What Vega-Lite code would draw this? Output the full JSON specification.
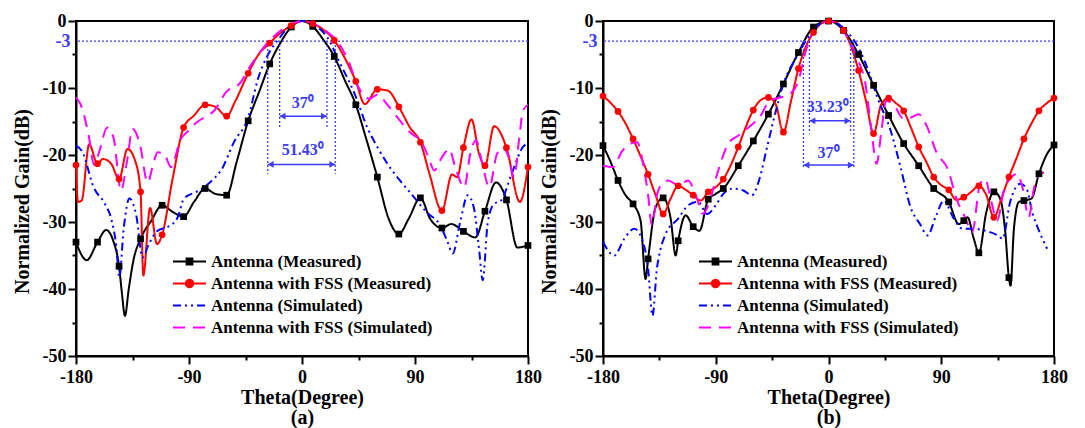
{
  "$schema": "https://vega.github.io/schema/vega-lite/v6.json",
  "padding": {"left": 11, "top": 11, "right": 0, "bottom": 0},
  "bounds": "flush",
  "spacing": 75,
  "resolve": {"scale": {"color": "independent", "strokeDash": "independent", "shape": "independent"}, "legend": {"color": "independent", "strokeDash": "independent", "shape": "independent"}},
  "config": {
    "font": "Liberation Serif",
    "view": {"stroke": "black", "strokeWidth": 2},
    "axis": {"labelFont": "Liberation Serif", "labelFontSize": 18, "labelFontWeight": "bold", "labelColor": "black", "titleFont": "Liberation Serif", "titleFontSize": 20, "titleFontWeight": "bold", "titleColor": "black", "domainColor": "black", "domainWidth": 2, "tickColor": "black", "tickWidth": 2, "grid": false, "labelFlush": false, "labelOverlap": false},
    "legend": {"orient": "none", "title": null, "padding": 0, "symbolSize": 272, "symbolStrokeWidth": 2, "rowPadding": 4, "labelOffset": 12, "labelFont": "Liberation Serif", "labelFontSize": 17, "labelFontWeight": "bold", "labelColor": "black", "labelLimit": 500}
  },
  "datasets": {
    "lineA": [
      {"series":"Antenna (Measured)","theta":-180,"gain":-33.0},{"series":"Antenna (Measured)","theta":-171.5,"gain":-35.7},{"series":"Antenna (Measured)","theta":-162.86,"gain":-33.0},{"series":"Antenna (Measured)","theta":-156,"gain":-31.2},{"series":"Antenna (Measured)","theta":-150,"gain":-33.0},{"series":"Antenna (Measured)","theta":-145.71,"gain":-36.6},{"series":"Antenna (Measured)","theta":-143.5,"gain":-40.5},{"series":"Antenna (Measured)","theta":-141,"gain":-44.0},{"series":"Antenna (Measured)","theta":-138,"gain":-40.0},{"series":"Antenna (Measured)","theta":-134,"gain":-35.5},{"series":"Antenna (Measured)","theta":-128.57,"gain":-32.5},{"series":"Antenna (Measured)","theta":-120,"gain":-29.8},{"series":"Antenna (Measured)","theta":-111.43,"gain":-27.5},{"series":"Antenna (Measured)","theta":-103,"gain":-28.5},{"series":"Antenna (Measured)","theta":-94.29,"gain":-29.2},{"series":"Antenna (Measured)","theta":-86,"gain":-27.0},{"series":"Antenna (Measured)","theta":-77.14,"gain":-25.0},{"series":"Antenna (Measured)","theta":-69,"gain":-25.8},{"series":"Antenna (Measured)","theta":-60,"gain":-26.0},{"series":"Antenna (Measured)","theta":-52,"gain":-21.0},{"series":"Antenna (Measured)","theta":-42.86,"gain":-14.9},{"series":"Antenna (Measured)","theta":-34,"gain":-10.5},{"series":"Antenna (Measured)","theta":-25.71,"gain":-6.4},{"series":"Antenna (Measured)","theta":-17,"gain":-3.2},{"series":"Antenna (Measured)","theta":-8.57,"gain":-0.9},{"series":"Antenna (Measured)","theta":0,"gain":0},{"series":"Antenna (Measured)","theta":8.57,"gain":-0.8},{"series":"Antenna (Measured)","theta":17,"gain":-2.8},{"series":"Antenna (Measured)","theta":25.71,"gain":-5.3},{"series":"Antenna (Measured)","theta":34,"gain":-8.8},{"series":"Antenna (Measured)","theta":42.86,"gain":-12.5},{"series":"Antenna (Measured)","theta":51,"gain":-17.5},{"series":"Antenna (Measured)","theta":60,"gain":-23.3},{"series":"Antenna (Measured)","theta":69,"gain":-29.5},{"series":"Antenna (Measured)","theta":77.14,"gain":-31.8},{"series":"Antenna (Measured)","theta":85,"gain":-29.5},{"series":"Antenna (Measured)","theta":94.29,"gain":-26.4},{"series":"Antenna (Measured)","theta":102,"gain":-29.5},{"series":"Antenna (Measured)","theta":111.43,"gain":-30.9},{"series":"Antenna (Measured)","theta":119,"gain":-30.3},{"series":"Antenna (Measured)","theta":128.57,"gain":-31.4},{"series":"Antenna (Measured)","theta":138,"gain":-32.3},{"series":"Antenna (Measured)","theta":145.71,"gain":-28.4},{"series":"Antenna (Measured)","theta":154.5,"gain":-24.1},{"series":"Antenna (Measured)","theta":162.86,"gain":-26.7},{"series":"Antenna (Measured)","theta":171.5,"gain":-33.8},{"series":"Antenna (Measured)","theta":180,"gain":-33.5},
      {"series":"Antenna with FSS (Measured)","theta":-180,"gain":-21.5},{"series":"Antenna with FSS (Measured)","theta":-178.5,"gain":-27.0},{"series":"Antenna with FSS (Measured)","theta":-175.5,"gain":-26.8},{"series":"Antenna with FSS (Measured)","theta":-169.5,"gain":-18.4},{"series":"Antenna with FSS (Measured)","theta":-162.86,"gain":-21.3},{"series":"Antenna with FSS (Measured)","theta":-158.5,"gain":-20.6},{"series":"Antenna with FSS (Measured)","theta":-152,"gain":-21.3},{"series":"Antenna with FSS (Measured)","theta":-145.71,"gain":-23.6},{"series":"Antenna with FSS (Measured)","theta":-139,"gain":-19.1},{"series":"Antenna with FSS (Measured)","theta":-133,"gain":-20.8},{"series":"Antenna with FSS (Measured)","theta":-128.57,"gain":-25.5},{"series":"Antenna with FSS (Measured)","theta":-126.4,"gain":-38.0},{"series":"Antenna with FSS (Measured)","theta":-121,"gain":-27.9},{"series":"Antenna with FSS (Measured)","theta":-115.5,"gain":-33.3},{"series":"Antenna with FSS (Measured)","theta":-111.43,"gain":-31.9},{"series":"Antenna with FSS (Measured)","theta":-103,"gain":-23.5},{"series":"Antenna with FSS (Measured)","theta":-94.29,"gain":-15.9},{"series":"Antenna with FSS (Measured)","theta":-86,"gain":-14.1},{"series":"Antenna with FSS (Measured)","theta":-77.14,"gain":-12.5},{"series":"Antenna with FSS (Measured)","theta":-69,"gain":-12.8},{"series":"Antenna with FSS (Measured)","theta":-60,"gain":-14.2},{"series":"Antenna with FSS (Measured)","theta":-53,"gain":-11.9},{"series":"Antenna with FSS (Measured)","theta":-42.86,"gain":-7.8},{"series":"Antenna with FSS (Measured)","theta":-35,"gain":-5.1},{"series":"Antenna with FSS (Measured)","theta":-25.71,"gain":-3.3},{"series":"Antenna with FSS (Measured)","theta":-18,"gain":-1.9},{"series":"Antenna with FSS (Measured)","theta":-8.57,"gain":-0.7},{"series":"Antenna with FSS (Measured)","theta":0,"gain":0},{"series":"Antenna with FSS (Measured)","theta":8.57,"gain":-0.4},{"series":"Antenna with FSS (Measured)","theta":17,"gain":-1.3},{"series":"Antenna with FSS (Measured)","theta":25.71,"gain":-2.9},{"series":"Antenna with FSS (Measured)","theta":34,"gain":-5.5},{"series":"Antenna with FSS (Measured)","theta":42.86,"gain":-9.0},{"series":"Antenna with FSS (Measured)","theta":50,"gain":-12.4},{"series":"Antenna with FSS (Measured)","theta":60,"gain":-10.2},{"series":"Antenna with FSS (Measured)","theta":68.5,"gain":-10.4},{"series":"Antenna with FSS (Measured)","theta":77.14,"gain":-12.8},{"series":"Antenna with FSS (Measured)","theta":86,"gain":-15.9},{"series":"Antenna with FSS (Measured)","theta":94.29,"gain":-18.1},{"series":"Antenna with FSS (Measured)","theta":101.5,"gain":-22.8},{"series":"Antenna with FSS (Measured)","theta":111.43,"gain":-28.3},{"series":"Antenna with FSS (Measured)","theta":119.5,"gain":-22.9},{"series":"Antenna with FSS (Measured)","theta":123.5,"gain":-23.3},{"series":"Antenna with FSS (Measured)","theta":128.57,"gain":-18.9},{"series":"Antenna with FSS (Measured)","theta":135,"gain":-14.7},{"series":"Antenna with FSS (Measured)","theta":141,"gain":-19.8},{"series":"Antenna with FSS (Measured)","theta":145.71,"gain":-21.6},{"series":"Antenna with FSS (Measured)","theta":153,"gain":-15.7},{"series":"Antenna with FSS (Measured)","theta":162.86,"gain":-18.9},{"series":"Antenna with FSS (Measured)","theta":173.5,"gain":-27.0},{"series":"Antenna with FSS (Measured)","theta":180,"gain":-21.8},
      {"series":"Antenna (Simulated)","theta":-180,"gain":-18.6},{"series":"Antenna (Simulated)","theta":-175,"gain":-19.5},{"series":"Antenna (Simulated)","theta":-166,"gain":-24.8},{"series":"Antenna (Simulated)","theta":-157,"gain":-27.3},{"series":"Antenna (Simulated)","theta":-152,"gain":-29.5},{"series":"Antenna (Simulated)","theta":-148,"gain":-33.5},{"series":"Antenna (Simulated)","theta":-145.5,"gain":-38.2},{"series":"Antenna (Simulated)","theta":-142,"gain":-31.0},{"series":"Antenna (Simulated)","theta":-137.5,"gain":-26.5},{"series":"Antenna (Simulated)","theta":-132,"gain":-29.0},{"series":"Antenna (Simulated)","theta":-127,"gain":-35.3},{"series":"Antenna (Simulated)","theta":-122,"gain":-33.3},{"series":"Antenna (Simulated)","theta":-115,"gain":-31.3},{"series":"Antenna (Simulated)","theta":-108,"gain":-30.8},{"series":"Antenna (Simulated)","theta":-103,"gain":-30.3},{"series":"Antenna (Simulated)","theta":-99,"gain":-29.3},{"series":"Antenna (Simulated)","theta":-94,"gain":-26.5},{"series":"Antenna (Simulated)","theta":-83,"gain":-25.4},{"series":"Antenna (Simulated)","theta":-78,"gain":-24.8},{"series":"Antenna (Simulated)","theta":-70,"gain":-23.5},{"series":"Antenna (Simulated)","theta":-64.5,"gain":-22.3},{"series":"Antenna (Simulated)","theta":-54,"gain":-18.0},{"series":"Antenna (Simulated)","theta":-43,"gain":-14.5},{"series":"Antenna (Simulated)","theta":-35,"gain":-8.6},{"series":"Antenna (Simulated)","theta":-27,"gain":-5.0},{"series":"Antenna (Simulated)","theta":-19,"gain":-2.8},{"series":"Antenna (Simulated)","theta":-10,"gain":-0.8},{"series":"Antenna (Simulated)","theta":0,"gain":0},{"series":"Antenna (Simulated)","theta":10,"gain":-0.6},{"series":"Antenna (Simulated)","theta":20,"gain":-2.4},{"series":"Antenna (Simulated)","theta":30,"gain":-6.2},{"series":"Antenna (Simulated)","theta":42,"gain":-10.9},{"series":"Antenna (Simulated)","theta":52,"gain":-15.9},{"series":"Antenna (Simulated)","theta":60,"gain":-18.8},{"series":"Antenna (Simulated)","theta":68,"gain":-21.3},{"series":"Antenna (Simulated)","theta":78,"gain":-23.8},{"series":"Antenna (Simulated)","theta":87,"gain":-25.8},{"series":"Antenna (Simulated)","theta":99,"gain":-28.5},{"series":"Antenna (Simulated)","theta":110,"gain":-30.5},{"series":"Antenna (Simulated)","theta":116,"gain":-33.0},{"series":"Antenna (Simulated)","theta":120,"gain":-34.7},{"series":"Antenna (Simulated)","theta":126,"gain":-30.0},{"series":"Antenna (Simulated)","theta":132,"gain":-26.0},{"series":"Antenna (Simulated)","theta":137,"gain":-28.0},{"series":"Antenna (Simulated)","theta":141,"gain":-34.0},{"series":"Antenna (Simulated)","theta":143.9,"gain":-38.7},{"series":"Antenna (Simulated)","theta":148,"gain":-30.0},{"series":"Antenna (Simulated)","theta":153,"gain":-27.3},{"series":"Antenna (Simulated)","theta":158.5,"gain":-26.8},{"series":"Antenna (Simulated)","theta":167,"gain":-22.8},{"series":"Antenna (Simulated)","theta":176,"gain":-18.8},{"series":"Antenna (Simulated)","theta":180,"gain":-18.2},
      {"series":"Antenna with FSS (Simulated)","theta":-180,"gain":-11.4},{"series":"Antenna with FSS (Simulated)","theta":-176,"gain":-12.6},{"series":"Antenna with FSS (Simulated)","theta":-170,"gain":-17.0},{"series":"Antenna with FSS (Simulated)","theta":-165.5,"gain":-21.5},{"series":"Antenna with FSS (Simulated)","theta":-162,"gain":-19.8},{"series":"Antenna with FSS (Simulated)","theta":-155,"gain":-15.9},{"series":"Antenna with FSS (Simulated)","theta":-150,"gain":-17.5},{"series":"Antenna with FSS (Simulated)","theta":-144.2,"gain":-25.3},{"series":"Antenna with FSS (Simulated)","theta":-139,"gain":-20.5},{"series":"Antenna with FSS (Simulated)","theta":-135,"gain":-16.1},{"series":"Antenna with FSS (Simulated)","theta":-129,"gain":-18.5},{"series":"Antenna with FSS (Simulated)","theta":-123,"gain":-24.1},{"series":"Antenna with FSS (Simulated)","theta":-118,"gain":-21.0},{"series":"Antenna with FSS (Simulated)","theta":-115,"gain":-19.6},{"series":"Antenna with FSS (Simulated)","theta":-110,"gain":-19.8},{"series":"Antenna with FSS (Simulated)","theta":-104.3,"gain":-21.8},{"series":"Antenna with FSS (Simulated)","theta":-97,"gain":-17.8},{"series":"Antenna with FSS (Simulated)","theta":-90,"gain":-16.3},{"series":"Antenna with FSS (Simulated)","theta":-85,"gain":-15.3},{"series":"Antenna with FSS (Simulated)","theta":-78,"gain":-14.4},{"series":"Antenna with FSS (Simulated)","theta":-70,"gain":-13.4},{"series":"Antenna with FSS (Simulated)","theta":-60,"gain":-10.5},{"series":"Antenna with FSS (Simulated)","theta":-50,"gain":-9.4},{"series":"Antenna with FSS (Simulated)","theta":-40,"gain":-6.4},{"series":"Antenna with FSS (Simulated)","theta":-28,"gain":-3.4},{"series":"Antenna with FSS (Simulated)","theta":-20,"gain":-1.9},{"series":"Antenna with FSS (Simulated)","theta":-10,"gain":-0.6},{"series":"Antenna with FSS (Simulated)","theta":0,"gain":0},{"series":"Antenna with FSS (Simulated)","theta":10,"gain":-0.5},{"series":"Antenna with FSS (Simulated)","theta":20,"gain":-1.6},{"series":"Antenna with FSS (Simulated)","theta":28,"gain":-3.0},{"series":"Antenna with FSS (Simulated)","theta":37,"gain":-6.0},{"series":"Antenna with FSS (Simulated)","theta":45,"gain":-9.9},{"series":"Antenna with FSS (Simulated)","theta":53.6,"gain":-11.6},{"series":"Antenna with FSS (Simulated)","theta":60,"gain":-11.0},{"series":"Antenna with FSS (Simulated)","theta":68,"gain":-12.5},{"series":"Antenna with FSS (Simulated)","theta":76,"gain":-14.4},{"series":"Antenna with FSS (Simulated)","theta":87,"gain":-16.8},{"series":"Antenna with FSS (Simulated)","theta":95,"gain":-18.0},{"series":"Antenna with FSS (Simulated)","theta":100,"gain":-20.0},{"series":"Antenna with FSS (Simulated)","theta":105.5,"gain":-22.3},{"series":"Antenna with FSS (Simulated)","theta":110,"gain":-20.8},{"series":"Antenna with FSS (Simulated)","theta":113.4,"gain":-19.8},{"series":"Antenna with FSS (Simulated)","theta":117.3,"gain":-19.1},{"series":"Antenna with FSS (Simulated)","theta":122,"gain":-21.8},{"series":"Antenna with FSS (Simulated)","theta":129.3,"gain":-24.8},{"series":"Antenna with FSS (Simulated)","theta":134,"gain":-19.8},{"series":"Antenna with FSS (Simulated)","theta":138.6,"gain":-17.8},{"series":"Antenna with FSS (Simulated)","theta":143,"gain":-20.8},{"series":"Antenna with FSS (Simulated)","theta":149.2,"gain":-24.8},{"series":"Antenna with FSS (Simulated)","theta":155,"gain":-20.0},{"series":"Antenna with FSS (Simulated)","theta":159.8,"gain":-18.8},{"series":"Antenna with FSS (Simulated)","theta":164,"gain":-20.0},{"series":"Antenna with FSS (Simulated)","theta":169,"gain":-23.3},{"series":"Antenna with FSS (Simulated)","theta":173,"gain":-17.5},{"series":"Antenna with FSS (Simulated)","theta":176,"gain":-13.4},{"series":"Antenna with FSS (Simulated)","theta":180,"gain":-12.5}
    ],
    "lineB": [
      {"series":"Antenna (Measured)","theta":-180,"gain":-18.6},{"series":"Antenna (Measured)","theta":-174,"gain":-21.0},{"series":"Antenna (Measured)","theta":-168,"gain":-23.8},{"series":"Antenna (Measured)","theta":-162,"gain":-26.0},{"series":"Antenna (Measured)","theta":-156,"gain":-27.3},{"series":"Antenna (Measured)","theta":-150,"gain":-29.8},{"series":"Antenna (Measured)","theta":-146,"gain":-38.5},{"series":"Antenna (Measured)","theta":-144,"gain":-35.5},{"series":"Antenna (Measured)","theta":-138,"gain":-27.8},{"series":"Antenna (Measured)","theta":-132,"gain":-26.4},{"series":"Antenna (Measured)","theta":-126,"gain":-29.5},{"series":"Antenna (Measured)","theta":-122,"gain":-35.0},{"series":"Antenna (Measured)","theta":-120,"gain":-32.8},{"series":"Antenna (Measured)","theta":-114,"gain":-29.0},{"series":"Antenna (Measured)","theta":-108,"gain":-30.7},{"series":"Antenna (Measured)","theta":-103,"gain":-31.3},{"series":"Antenna (Measured)","theta":-96,"gain":-26.6},{"series":"Antenna (Measured)","theta":-90,"gain":-25.8},{"series":"Antenna (Measured)","theta":-84,"gain":-25.0},{"series":"Antenna (Measured)","theta":-72,"gain":-21.6},{"series":"Antenna (Measured)","theta":-60,"gain":-17.9},{"series":"Antenna (Measured)","theta":-48,"gain":-13.9},{"series":"Antenna (Measured)","theta":-36,"gain":-9.4},{"series":"Antenna (Measured)","theta":-24,"gain":-4.7},{"series":"Antenna (Measured)","theta":-12,"gain":-0.9},{"series":"Antenna (Measured)","theta":0,"gain":0},{"series":"Antenna (Measured)","theta":12,"gain":-1.4},{"series":"Antenna (Measured)","theta":24,"gain":-5.0},{"series":"Antenna (Measured)","theta":36,"gain":-9.6},{"series":"Antenna (Measured)","theta":48,"gain":-14.1},{"series":"Antenna (Measured)","theta":60,"gain":-18.3},{"series":"Antenna (Measured)","theta":72,"gain":-21.6},{"series":"Antenna (Measured)","theta":84,"gain":-25.0},{"series":"Antenna (Measured)","theta":96,"gain":-27.0},{"series":"Antenna (Measured)","theta":104,"gain":-30.3},{"series":"Antenna (Measured)","theta":108,"gain":-29.8},{"series":"Antenna (Measured)","theta":111,"gain":-29.3},{"series":"Antenna (Measured)","theta":116,"gain":-32.5},{"series":"Antenna (Measured)","theta":120,"gain":-34.6},{"series":"Antenna (Measured)","theta":126,"gain":-28.5},{"series":"Antenna (Measured)","theta":132,"gain":-25.5},{"series":"Antenna (Measured)","theta":137,"gain":-26.5},{"series":"Antenna (Measured)","theta":141,"gain":-31.3},{"series":"Antenna (Measured)","theta":144,"gain":-38.3},{"series":"Antenna (Measured)","theta":145.3,"gain":-39.5},{"series":"Antenna (Measured)","theta":148,"gain":-31.0},{"series":"Antenna (Measured)","theta":152,"gain":-27.0},{"series":"Antenna (Measured)","theta":156,"gain":-26.8},{"series":"Antenna (Measured)","theta":162,"gain":-26.5},{"series":"Antenna (Measured)","theta":168,"gain":-22.8},{"series":"Antenna (Measured)","theta":174,"gain":-20.0},{"series":"Antenna (Measured)","theta":180,"gain":-18.5},
      {"series":"Antenna with FSS (Measured)","theta":-180,"gain":-11.2},{"series":"Antenna with FSS (Measured)","theta":-174,"gain":-12.2},{"series":"Antenna with FSS (Measured)","theta":-168,"gain":-13.5},{"series":"Antenna with FSS (Measured)","theta":-162,"gain":-15.3},{"series":"Antenna with FSS (Measured)","theta":-156,"gain":-17.6},{"series":"Antenna with FSS (Measured)","theta":-150,"gain":-20.2},{"series":"Antenna with FSS (Measured)","theta":-144,"gain":-22.9},{"series":"Antenna with FSS (Measured)","theta":-138,"gain":-26.0},{"series":"Antenna with FSS (Measured)","theta":-132,"gain":-28.8},{"series":"Antenna with FSS (Measured)","theta":-126,"gain":-26.5},{"series":"Antenna with FSS (Measured)","theta":-120,"gain":-24.6},{"series":"Antenna with FSS (Measured)","theta":-114,"gain":-25.2},{"series":"Antenna with FSS (Measured)","theta":-108,"gain":-26.0},{"series":"Antenna with FSS (Measured)","theta":-102,"gain":-26.8},{"series":"Antenna with FSS (Measured)","theta":-96,"gain":-25.5},{"series":"Antenna with FSS (Measured)","theta":-90,"gain":-24.8},{"series":"Antenna with FSS (Measured)","theta":-84,"gain":-23.6},{"series":"Antenna with FSS (Measured)","theta":-78,"gain":-21.5},{"series":"Antenna with FSS (Measured)","theta":-72,"gain":-18.8},{"series":"Antenna with FSS (Measured)","theta":-66,"gain":-15.8},{"series":"Antenna with FSS (Measured)","theta":-60,"gain":-13.3},{"series":"Antenna with FSS (Measured)","theta":-54,"gain":-11.8},{"series":"Antenna with FSS (Measured)","theta":-48,"gain":-11.4},{"series":"Antenna with FSS (Measured)","theta":-42,"gain":-12.5},{"series":"Antenna with FSS (Measured)","theta":-36,"gain":-16.6},{"series":"Antenna with FSS (Measured)","theta":-30,"gain":-12.0},{"series":"Antenna with FSS (Measured)","theta":-24,"gain":-7.1},{"series":"Antenna with FSS (Measured)","theta":-18,"gain":-3.8},{"series":"Antenna with FSS (Measured)","theta":-12,"gain":-1.7},{"series":"Antenna with FSS (Measured)","theta":-6,"gain":-0.4},{"series":"Antenna with FSS (Measured)","theta":0,"gain":0},{"series":"Antenna with FSS (Measured)","theta":6,"gain":-0.2},{"series":"Antenna with FSS (Measured)","theta":12,"gain":-1.4},{"series":"Antenna with FSS (Measured)","theta":18,"gain":-3.8},{"series":"Antenna with FSS (Measured)","theta":24,"gain":-7.4},{"series":"Antenna with FSS (Measured)","theta":30,"gain":-12.0},{"series":"Antenna with FSS (Measured)","theta":36,"gain":-16.8},{"series":"Antenna with FSS (Measured)","theta":42,"gain":-12.5},{"series":"Antenna with FSS (Measured)","theta":48,"gain":-11.5},{"series":"Antenna with FSS (Measured)","theta":54,"gain":-12.3},{"series":"Antenna with FSS (Measured)","theta":60,"gain":-13.4},{"series":"Antenna with FSS (Measured)","theta":66,"gain":-16.0},{"series":"Antenna with FSS (Measured)","theta":72,"gain":-18.8},{"series":"Antenna with FSS (Measured)","theta":78,"gain":-21.0},{"series":"Antenna with FSS (Measured)","theta":84,"gain":-23.3},{"series":"Antenna with FSS (Measured)","theta":90,"gain":-24.5},{"series":"Antenna with FSS (Measured)","theta":96,"gain":-25.2},{"series":"Antenna with FSS (Measured)","theta":102,"gain":-26.7},{"series":"Antenna with FSS (Measured)","theta":108,"gain":-26.3},{"series":"Antenna with FSS (Measured)","theta":114,"gain":-25.5},{"series":"Antenna with FSS (Measured)","theta":120,"gain":-24.6},{"series":"Antenna with FSS (Measured)","theta":126,"gain":-26.0},{"series":"Antenna with FSS (Measured)","theta":132,"gain":-29.3},{"series":"Antenna with FSS (Measured)","theta":138,"gain":-26.5},{"series":"Antenna with FSS (Measured)","theta":144,"gain":-23.3},{"series":"Antenna with FSS (Measured)","theta":150,"gain":-20.5},{"series":"Antenna with FSS (Measured)","theta":156,"gain":-17.6},{"series":"Antenna with FSS (Measured)","theta":162,"gain":-15.3},{"series":"Antenna with FSS (Measured)","theta":168,"gain":-13.4},{"series":"Antenna with FSS (Measured)","theta":174,"gain":-12.3},{"series":"Antenna with FSS (Measured)","theta":180,"gain":-11.5},
      {"series":"Antenna (Simulated)","theta":-180,"gain":-33.0},{"series":"Antenna (Simulated)","theta":-171,"gain":-35.0},{"series":"Antenna (Simulated)","theta":-163,"gain":-32.5},{"series":"Antenna (Simulated)","theta":-155,"gain":-31.0},{"series":"Antenna (Simulated)","theta":-149,"gain":-32.5},{"series":"Antenna (Simulated)","theta":-144,"gain":-37.0},{"series":"Antenna (Simulated)","theta":-140.5,"gain":-44.0},{"series":"Antenna (Simulated)","theta":-137,"gain":-37.0},{"series":"Antenna (Simulated)","theta":-134,"gain":-34.0},{"series":"Antenna (Simulated)","theta":-130,"gain":-31.8},{"series":"Antenna (Simulated)","theta":-120,"gain":-29.5},{"series":"Antenna (Simulated)","theta":-112,"gain":-27.5},{"series":"Antenna (Simulated)","theta":-104,"gain":-27.0},{"series":"Antenna (Simulated)","theta":-97,"gain":-28.8},{"series":"Antenna (Simulated)","theta":-90,"gain":-27.5},{"series":"Antenna (Simulated)","theta":-84,"gain":-25.8},{"series":"Antenna (Simulated)","theta":-76,"gain":-25.0},{"series":"Antenna (Simulated)","theta":-68,"gain":-25.3},{"series":"Antenna (Simulated)","theta":-61,"gain":-26.0},{"series":"Antenna (Simulated)","theta":-55,"gain":-23.5},{"series":"Antenna (Simulated)","theta":-49,"gain":-18.8},{"series":"Antenna (Simulated)","theta":-44,"gain":-14.9},{"series":"Antenna (Simulated)","theta":-36,"gain":-9.4},{"series":"Antenna (Simulated)","theta":-26,"gain":-5.5},{"series":"Antenna (Simulated)","theta":-14,"gain":-1.9},{"series":"Antenna (Simulated)","theta":-6,"gain":-0.3},{"series":"Antenna (Simulated)","theta":0,"gain":0},{"series":"Antenna (Simulated)","theta":8,"gain":-0.5},{"series":"Antenna (Simulated)","theta":16,"gain":-1.8},{"series":"Antenna (Simulated)","theta":25,"gain":-4.4},{"series":"Antenna (Simulated)","theta":32,"gain":-7.5},{"series":"Antenna (Simulated)","theta":39,"gain":-11.4},{"series":"Antenna (Simulated)","theta":49.5,"gain":-16.3},{"series":"Antenna (Simulated)","theta":57.5,"gain":-21.8},{"series":"Antenna (Simulated)","theta":65.5,"gain":-27.8},{"series":"Antenna (Simulated)","theta":73,"gain":-30.3},{"series":"Antenna (Simulated)","theta":79,"gain":-32.0},{"series":"Antenna (Simulated)","theta":86,"gain":-29.0},{"series":"Antenna (Simulated)","theta":92,"gain":-26.8},{"series":"Antenna (Simulated)","theta":100,"gain":-29.5},{"series":"Antenna (Simulated)","theta":107,"gain":-31.0},{"series":"Antenna (Simulated)","theta":115,"gain":-31.0},{"series":"Antenna (Simulated)","theta":125,"gain":-31.3},{"series":"Antenna (Simulated)","theta":135,"gain":-32.0},{"series":"Antenna (Simulated)","theta":139,"gain":-32.5},{"series":"Antenna (Simulated)","theta":145,"gain":-27.0},{"series":"Antenna (Simulated)","theta":153,"gain":-24.3},{"series":"Antenna (Simulated)","theta":158,"gain":-25.0},{"series":"Antenna (Simulated)","theta":163,"gain":-28.8},{"series":"Antenna (Simulated)","theta":168,"gain":-31.3},{"series":"Antenna (Simulated)","theta":174.5,"gain":-34.0},
      {"series":"Antenna with FSS (Simulated)","theta":-180,"gain":-21.6},{"series":"Antenna with FSS (Simulated)","theta":-172,"gain":-21.8},{"series":"Antenna with FSS (Simulated)","theta":-165,"gain":-19.5},{"series":"Antenna with FSS (Simulated)","theta":-158,"gain":-18.3},{"series":"Antenna with FSS (Simulated)","theta":-152.7,"gain":-18.1},{"series":"Antenna with FSS (Simulated)","theta":-148,"gain":-21.3},{"series":"Antenna with FSS (Simulated)","theta":-144,"gain":-26.0},{"series":"Antenna with FSS (Simulated)","theta":-141,"gain":-30.5},{"series":"Antenna with FSS (Simulated)","theta":-137,"gain":-26.0},{"series":"Antenna with FSS (Simulated)","theta":-133,"gain":-24.3},{"series":"Antenna with FSS (Simulated)","theta":-128,"gain":-23.8},{"series":"Antenna with FSS (Simulated)","theta":-120,"gain":-24.5},{"series":"Antenna with FSS (Simulated)","theta":-112,"gain":-23.8},{"series":"Antenna with FSS (Simulated)","theta":-106,"gain":-26.0},{"series":"Antenna with FSS (Simulated)","theta":-100,"gain":-28.8},{"series":"Antenna with FSS (Simulated)","theta":-96,"gain":-27.5},{"series":"Antenna with FSS (Simulated)","theta":-88,"gain":-22.3},{"series":"Antenna with FSS (Simulated)","theta":-80,"gain":-18.3},{"series":"Antenna with FSS (Simulated)","theta":-72,"gain":-17.1},{"series":"Antenna with FSS (Simulated)","theta":-62,"gain":-15.6},{"series":"Antenna with FSS (Simulated)","theta":-55,"gain":-14.4},{"series":"Antenna with FSS (Simulated)","theta":-47,"gain":-11.9},{"series":"Antenna with FSS (Simulated)","theta":-40,"gain":-11.5},{"series":"Antenna with FSS (Simulated)","theta":-31,"gain":-10.9},{"series":"Antenna with FSS (Simulated)","theta":-24,"gain":-8.9},{"series":"Antenna with FSS (Simulated)","theta":-18,"gain":-4.4},{"series":"Antenna with FSS (Simulated)","theta":-12,"gain":-1.4},{"series":"Antenna with FSS (Simulated)","theta":-5,"gain":-0.3},{"series":"Antenna with FSS (Simulated)","theta":0,"gain":0},{"series":"Antenna with FSS (Simulated)","theta":5,"gain":-0.2},{"series":"Antenna with FSS (Simulated)","theta":12,"gain":-1.5},{"series":"Antenna with FSS (Simulated)","theta":18,"gain":-3.5},{"series":"Antenna with FSS (Simulated)","theta":24,"gain":-6.0},{"series":"Antenna with FSS (Simulated)","theta":29.5,"gain":-9.4},{"series":"Antenna with FSS (Simulated)","theta":34,"gain":-15.9},{"series":"Antenna with FSS (Simulated)","theta":38.5,"gain":-21.3},{"series":"Antenna with FSS (Simulated)","theta":42,"gain":-16.8},{"series":"Antenna with FSS (Simulated)","theta":46,"gain":-11.9},{"series":"Antenna with FSS (Simulated)","theta":52,"gain":-12.5},{"series":"Antenna with FSS (Simulated)","theta":60,"gain":-14.6},{"series":"Antenna with FSS (Simulated)","theta":66,"gain":-14.4},{"series":"Antenna with FSS (Simulated)","theta":72,"gain":-13.9},{"series":"Antenna with FSS (Simulated)","theta":78,"gain":-15.5},{"series":"Antenna with FSS (Simulated)","theta":86.7,"gain":-19.8},{"series":"Antenna with FSS (Simulated)","theta":95,"gain":-22.0},{"series":"Antenna with FSS (Simulated)","theta":102.7,"gain":-26.8},{"series":"Antenna with FSS (Simulated)","theta":109,"gain":-29.3},{"series":"Antenna with FSS (Simulated)","theta":114.7,"gain":-31.5},{"series":"Antenna with FSS (Simulated)","theta":121,"gain":-24.3},{"series":"Antenna with FSS (Simulated)","theta":125,"gain":-23.6},{"series":"Antenna with FSS (Simulated)","theta":130,"gain":-27.0},{"series":"Antenna with FSS (Simulated)","theta":134.6,"gain":-29.8},{"series":"Antenna with FSS (Simulated)","theta":140,"gain":-25.3},{"series":"Antenna with FSS (Simulated)","theta":145,"gain":-23.5},{"series":"Antenna with FSS (Simulated)","theta":150.6,"gain":-22.8},{"series":"Antenna with FSS (Simulated)","theta":155,"gain":-25.0},{"series":"Antenna with FSS (Simulated)","theta":159.8,"gain":-29.3},{"series":"Antenna with FSS (Simulated)","theta":164,"gain":-25.0},{"series":"Antenna with FSS (Simulated)","theta":168,"gain":-23.0},{"series":"Antenna with FSS (Simulated)","theta":172,"gain":-22.6}
    ],
    "vlineA": [
      {"theta": -17.8, "gain": -3, "gain2": -16},
      {"theta": 19.9, "gain": -3, "gain2": -16},
      {"theta": -27.3, "gain": -3, "gain2": -22.8},
      {"theta": 26.5, "gain": -3, "gain2": -22.8}
    ],
    "arrowA": [
      {"theta": -17.8, "theta2": 19.9, "gain": -14.2},
      {"theta": -27.3, "theta2": 26.5, "gain": -21.4}
    ],
    "textA": [
      {"theta": 0.5, "gain": -12.3, "label": "37⁰"},
      {"theta": 0.5, "gain": -19.3, "label": "51.43⁰"}
    ],
    "vlineB": [
      {"theta": -15.2, "gain": -3, "gain2": -16.8},
      {"theta": 17.6, "gain": -3, "gain2": -16.8},
      {"theta": -20.0, "gain": -3, "gain2": -21.8},
      {"theta": 20.2, "gain": -3, "gain2": -21.8}
    ],
    "arrowB": [
      {"theta": -15.2, "theta2": 17.6, "gain": -14.9},
      {"theta": -20.0, "theta2": 20.2, "gain": -21.5}
    ],
    "textB": [
      {"theta": -0.5, "gain": -12.8, "label": "33.23⁰"},
      {"theta": 0, "gain": -19.7, "label": "37⁰"}
    ]
  },
  "hconcat": [
    {
      "width": 452, "height": 335,
      "layer": [
        {"data": {"name": "lineA"}, "mark": {"type": "line", "interpolate": "monotone", "strokeWidth": 2},
         "encoding": {
           "x": {"field": "theta", "type": "quantitative", "scale": {"domain": [-180, 180], "nice": false, "zero": false},
                 "axis": {"title": ["Theta(Degree)", "(a)"], "values": [-180, -135, -90, -45, 0, 45, 90, 135, 180], "tickCount": 30, "labelExpr": "datum.value % 90 == 0 ? '' + datum.value : ''", "tickSize": {"condition": {"test": "datum.value % 90 != 0", "value": 4}, "value": 8}, "labelPadding": 4, "titlePadding": 1, "titleLineHeight": 20}},
           "y": {"field": "gain", "type": "quantitative", "scale": {"domain": [-50, 0], "nice": false},
                 "axis": {"title": "Normalized Gain(dB)", "titleY": 180, "values": [0, -3, -5, -10, -15, -20, -25, -30, -35, -40, -45, -50], "tickCount": 30, "labelExpr": "datum.value % 10 == 0 || datum.value == -3 ? '' + datum.value : ''", "labelColor": {"condition": {"test": "datum.value == -3", "value": "#3c3cff"}, "value": "black"}, "tickOpacity": {"condition": {"test": "datum.value == -3", "value": 0}, "value": 1}, "tickSize": {"condition": {"test": "datum.value % 10 != 0", "value": 4}, "value": 8}, "labelPadding": 2, "titlePadding": 10}},
           "color": {"field": "series", "type": "nominal", "scale": {"domain": ["Antenna (Measured)", "Antenna with FSS (Measured)", "Antenna (Simulated)", "Antenna with FSS (Simulated)"], "range": ["#000000", "#ff0000", "#0000ff", "#ff00ff"]},
                     "legend": {"legendX": 104, "legendY": 231, "encode": {"symbols": {"update": {"shape": {"signal": "datum.value == 'Antenna (Measured)' ? 'M-2,0H2M-0.35,-0.35H0.35V0.35H-0.35Z' : datum.value == 'Antenna with FSS (Measured)' ? 'M-2,0H2M0.45,0A0.45,0.45,0,1,1,-0.45,0A0.45,0.45,0,1,1,0.45,0Z' : 'M-2,0H2'"}, "fill": {"signal": "datum.value == 'Antenna (Measured)' ? '#000000' : datum.value == 'Antenna with FSS (Measured)' ? '#ff0000' : 'transparent'"}}}}}},
           "strokeDash": {"field": "series", "type": "nominal", "scale": {"domain": ["Antenna (Measured)", "Antenna with FSS (Measured)", "Antenna (Simulated)", "Antenna with FSS (Simulated)"], "range": [[1, 0], [1, 0], [8, 4, 2, 4, 2, 4], [12, 8]]},
                     "legend": {"legendX": 104, "legendY": 231, "encode": {"symbols": {"update": {"shape": {"signal": "datum.value == 'Antenna (Measured)' ? 'M-2,0H2M-0.35,-0.35H0.35V0.35H-0.35Z' : datum.value == 'Antenna with FSS (Measured)' ? 'M-2,0H2M0.45,0A0.45,0.45,0,1,1,-0.45,0A0.45,0.45,0,1,1,0.45,0Z' : 'M-2,0H2'"}, "fill": {"signal": "datum.value == 'Antenna (Measured)' ? '#000000' : datum.value == 'Antenna with FSS (Measured)' ? '#ff0000' : 'transparent'"}}}}}}
         }},
        {"data": {"values": [{"gain": -3}]}, "mark": {"type": "rule", "color": "#3c3cff", "strokeDash": [2, 2], "strokeWidth": 1.3},
         "encoding": {"y": {"field": "gain", "type": "quantitative", "scale": {"domain": [-50, 0], "nice": false}}}},
        {"data": {"name": "vlineA"}, "mark": {"type": "rule", "color": "#3c3cff", "strokeDash": [2, 2], "strokeWidth": 1.3},
         "encoding": {"x": {"field": "theta", "type": "quantitative", "scale": {"domain": [-180, 180], "nice": false, "zero": false}},
                      "y": {"field": "gain", "type": "quantitative", "scale": {"domain": [-50, 0], "nice": false}}, "y2": {"field": "gain2"}}},
        {"data": {"name": "arrowA"}, "mark": {"type": "rule", "color": "#3c3cff", "strokeWidth": 1.5},
         "encoding": {"x": {"field": "theta", "type": "quantitative", "scale": {"domain": [-180, 180], "nice": false, "zero": false}}, "x2": {"field": "theta2"},
                      "y": {"field": "gain", "type": "quantitative", "scale": {"domain": [-50, 0], "nice": false}}}},
        {"data": {"name": "arrowA"}, "mark": {"type": "point", "shape": "triangle-left", "filled": true, "color": "#3c3cff", "opacity": 1, "size": 45, "xOffset": 3},
         "encoding": {"x": {"field": "theta", "type": "quantitative", "scale": {"domain": [-180, 180], "nice": false, "zero": false}},
                      "y": {"field": "gain", "type": "quantitative", "scale": {"domain": [-50, 0], "nice": false}}}},
        {"data": {"name": "arrowA"}, "mark": {"type": "point", "shape": "triangle-right", "filled": true, "color": "#3c3cff", "opacity": 1, "size": 45, "xOffset": -3},
         "encoding": {"x": {"field": "theta2", "type": "quantitative", "scale": {"domain": [-180, 180], "nice": false, "zero": false}},
                      "y": {"field": "gain", "type": "quantitative", "scale": {"domain": [-50, 0], "nice": false}}}},
        {"data": {"name": "textA"}, "mark": {"type": "text", "font": "Liberation Serif", "fontSize": 16, "fontWeight": "bold", "color": "#3c3cff", "baseline": "middle", "align": "center"},
         "encoding": {"x": {"field": "theta", "type": "quantitative", "scale": {"domain": [-180, 180], "nice": false, "zero": false}},
                      "y": {"field": "gain", "type": "quantitative", "scale": {"domain": [-50, 0], "nice": false}}, "text": {"field": "label"}}},
        {"data": {"name": "lineA"},
         "transform": [
           {"filter": {"field": "series", "oneOf": ["Antenna (Measured)", "Antenna with FSS (Measured)"]}},
           {"filter": {"field": "theta", "oneOf": [-180, -162.86, -145.71, -128.57, -111.43, -94.29, -77.14, -60, -42.86, -25.71, -8.57, 8.57, 25.71, 42.86, 60, 77.14, 94.29, 111.43, 128.57, 145.71, 162.86, 180]}}
         ],
         "mark": {"type": "point", "filled": true, "opacity": 1, "size": 45},
         "encoding": {
           "x": {"field": "theta", "type": "quantitative", "scale": {"domain": [-180, 180], "nice": false, "zero": false}},
           "y": {"field": "gain", "type": "quantitative", "scale": {"domain": [-50, 0], "nice": false}},
           "color": {"field": "series", "type": "nominal", "scale": {"domain": ["Antenna (Measured)", "Antenna with FSS (Measured)", "Antenna (Simulated)", "Antenna with FSS (Simulated)"], "range": ["#000000", "#ff0000", "#0000ff", "#ff00ff"]}, "legend": null},
           "shape": {"field": "series", "type": "nominal", "scale": {"domain": ["Antenna (Measured)", "Antenna with FSS (Measured)"], "range": ["square", "circle"]}, "legend": null}
         }}
      ]
    },
    {
      "width": 451, "height": 335,
      "layer": [
        {"data": {"name": "lineB"}, "mark": {"type": "line", "interpolate": "monotone", "strokeWidth": 2},
         "encoding": {
           "x": {"field": "theta", "type": "quantitative", "scale": {"domain": [-180, 180], "nice": false, "zero": false},
                 "axis": {"title": ["Theta(Degree)", "(b)"], "values": [-180, -135, -90, -45, 0, 45, 90, 135, 180], "tickCount": 30, "labelExpr": "datum.value % 90 == 0 ? '' + datum.value : ''", "tickSize": {"condition": {"test": "datum.value % 90 != 0", "value": 4}, "value": 8}, "labelPadding": 4, "titlePadding": 1, "titleLineHeight": 20}},
           "y": {"field": "gain", "type": "quantitative", "scale": {"domain": [-50, 0], "nice": false},
                 "axis": {"title": "Normalized Gain(dB)", "titleY": 180, "values": [0, -3, -5, -10, -15, -20, -25, -30, -35, -40, -45, -50], "tickCount": 30, "labelExpr": "datum.value % 10 == 0 || datum.value == -3 ? '' + datum.value : ''", "labelColor": {"condition": {"test": "datum.value == -3", "value": "#3c3cff"}, "value": "black"}, "tickOpacity": {"condition": {"test": "datum.value == -3", "value": 0}, "value": 1}, "tickSize": {"condition": {"test": "datum.value % 10 != 0", "value": 4}, "value": 8}, "labelPadding": 2, "titlePadding": 10}},
           "color": {"field": "series", "type": "nominal", "scale": {"domain": ["Antenna (Measured)", "Antenna with FSS (Measured)", "Antenna (Simulated)", "Antenna with FSS (Simulated)"], "range": ["#000000", "#ff0000", "#0000ff", "#ff00ff"]},
                     "legend": {"legendX": 103, "legendY": 231, "encode": {"symbols": {"update": {"shape": {"signal": "datum.value == 'Antenna (Measured)' ? 'M-2,0H2M-0.35,-0.35H0.35V0.35H-0.35Z' : datum.value == 'Antenna with FSS (Measured)' ? 'M-2,0H2M0.45,0A0.45,0.45,0,1,1,-0.45,0A0.45,0.45,0,1,1,0.45,0Z' : 'M-2,0H2'"}, "fill": {"signal": "datum.value == 'Antenna (Measured)' ? '#000000' : datum.value == 'Antenna with FSS (Measured)' ? '#ff0000' : 'transparent'"}}}}}},
           "strokeDash": {"field": "series", "type": "nominal", "scale": {"domain": ["Antenna (Measured)", "Antenna with FSS (Measured)", "Antenna (Simulated)", "Antenna with FSS (Simulated)"], "range": [[1, 0], [1, 0], [8, 4, 2, 4, 2, 4], [12, 8]]},
                     "legend": {"legendX": 103, "legendY": 231, "encode": {"symbols": {"update": {"shape": {"signal": "datum.value == 'Antenna (Measured)' ? 'M-2,0H2M-0.35,-0.35H0.35V0.35H-0.35Z' : datum.value == 'Antenna with FSS (Measured)' ? 'M-2,0H2M0.45,0A0.45,0.45,0,1,1,-0.45,0A0.45,0.45,0,1,1,0.45,0Z' : 'M-2,0H2'"}, "fill": {"signal": "datum.value == 'Antenna (Measured)' ? '#000000' : datum.value == 'Antenna with FSS (Measured)' ? '#ff0000' : 'transparent'"}}}}}}
         }},
        {"data": {"values": [{"gain": -3}]}, "mark": {"type": "rule", "color": "#3c3cff", "strokeDash": [2, 2], "strokeWidth": 1.3},
         "encoding": {"y": {"field": "gain", "type": "quantitative", "scale": {"domain": [-50, 0], "nice": false}}}},
        {"data": {"name": "vlineB"}, "mark": {"type": "rule", "color": "#3c3cff", "strokeDash": [2, 2], "strokeWidth": 1.3},
         "encoding": {"x": {"field": "theta", "type": "quantitative", "scale": {"domain": [-180, 180], "nice": false, "zero": false}},
                      "y": {"field": "gain", "type": "quantitative", "scale": {"domain": [-50, 0], "nice": false}}, "y2": {"field": "gain2"}}},
        {"data": {"name": "arrowB"}, "mark": {"type": "rule", "color": "#3c3cff", "strokeWidth": 1.5},
         "encoding": {"x": {"field": "theta", "type": "quantitative", "scale": {"domain": [-180, 180], "nice": false, "zero": false}}, "x2": {"field": "theta2"},
                      "y": {"field": "gain", "type": "quantitative", "scale": {"domain": [-50, 0], "nice": false}}}},
        {"data": {"name": "arrowB"}, "mark": {"type": "point", "shape": "triangle-left", "filled": true, "color": "#3c3cff", "opacity": 1, "size": 45, "xOffset": 3},
         "encoding": {"x": {"field": "theta", "type": "quantitative", "scale": {"domain": [-180, 180], "nice": false, "zero": false}},
                      "y": {"field": "gain", "type": "quantitative", "scale": {"domain": [-50, 0], "nice": false}}}},
        {"data": {"name": "arrowB"}, "mark": {"type": "point", "shape": "triangle-right", "filled": true, "color": "#3c3cff", "opacity": 1, "size": 45, "xOffset": -3},
         "encoding": {"x": {"field": "theta2", "type": "quantitative", "scale": {"domain": [-180, 180], "nice": false, "zero": false}},
                      "y": {"field": "gain", "type": "quantitative", "scale": {"domain": [-50, 0], "nice": false}}}},
        {"data": {"name": "textB"}, "mark": {"type": "text", "font": "Liberation Serif", "fontSize": 16, "fontWeight": "bold", "color": "#3c3cff", "baseline": "middle", "align": "center"},
         "encoding": {"x": {"field": "theta", "type": "quantitative", "scale": {"domain": [-180, 180], "nice": false, "zero": false}},
                      "y": {"field": "gain", "type": "quantitative", "scale": {"domain": [-50, 0], "nice": false}}, "text": {"field": "label"}}},
        {"data": {"name": "lineB"},
         "transform": [
           {"filter": {"field": "series", "oneOf": ["Antenna (Measured)", "Antenna with FSS (Measured)"]}},
           {"filter": {"field": "theta", "oneOf": [-180, -168, -156, -144, -132, -120, -108, -96, -84, -72, -60, -48, -36, -24, -12, 0, 12, 24, 36, 48, 60, 72, 84, 96, 108, 120, 132, 144, 156, 168, 180]}}
         ],
         "mark": {"type": "point", "filled": true, "opacity": 1, "size": 45},
         "encoding": {
           "x": {"field": "theta", "type": "quantitative", "scale": {"domain": [-180, 180], "nice": false, "zero": false}},
           "y": {"field": "gain", "type": "quantitative", "scale": {"domain": [-50, 0], "nice": false}},
           "color": {"field": "series", "type": "nominal", "scale": {"domain": ["Antenna (Measured)", "Antenna with FSS (Measured)", "Antenna (Simulated)", "Antenna with FSS (Simulated)"], "range": ["#000000", "#ff0000", "#0000ff", "#ff00ff"]}, "legend": null},
           "shape": {"field": "series", "type": "nominal", "scale": {"domain": ["Antenna (Measured)", "Antenna with FSS (Measured)"], "range": ["square", "circle"]}, "legend": null}
         }}
      ]
    }
  ]
}
